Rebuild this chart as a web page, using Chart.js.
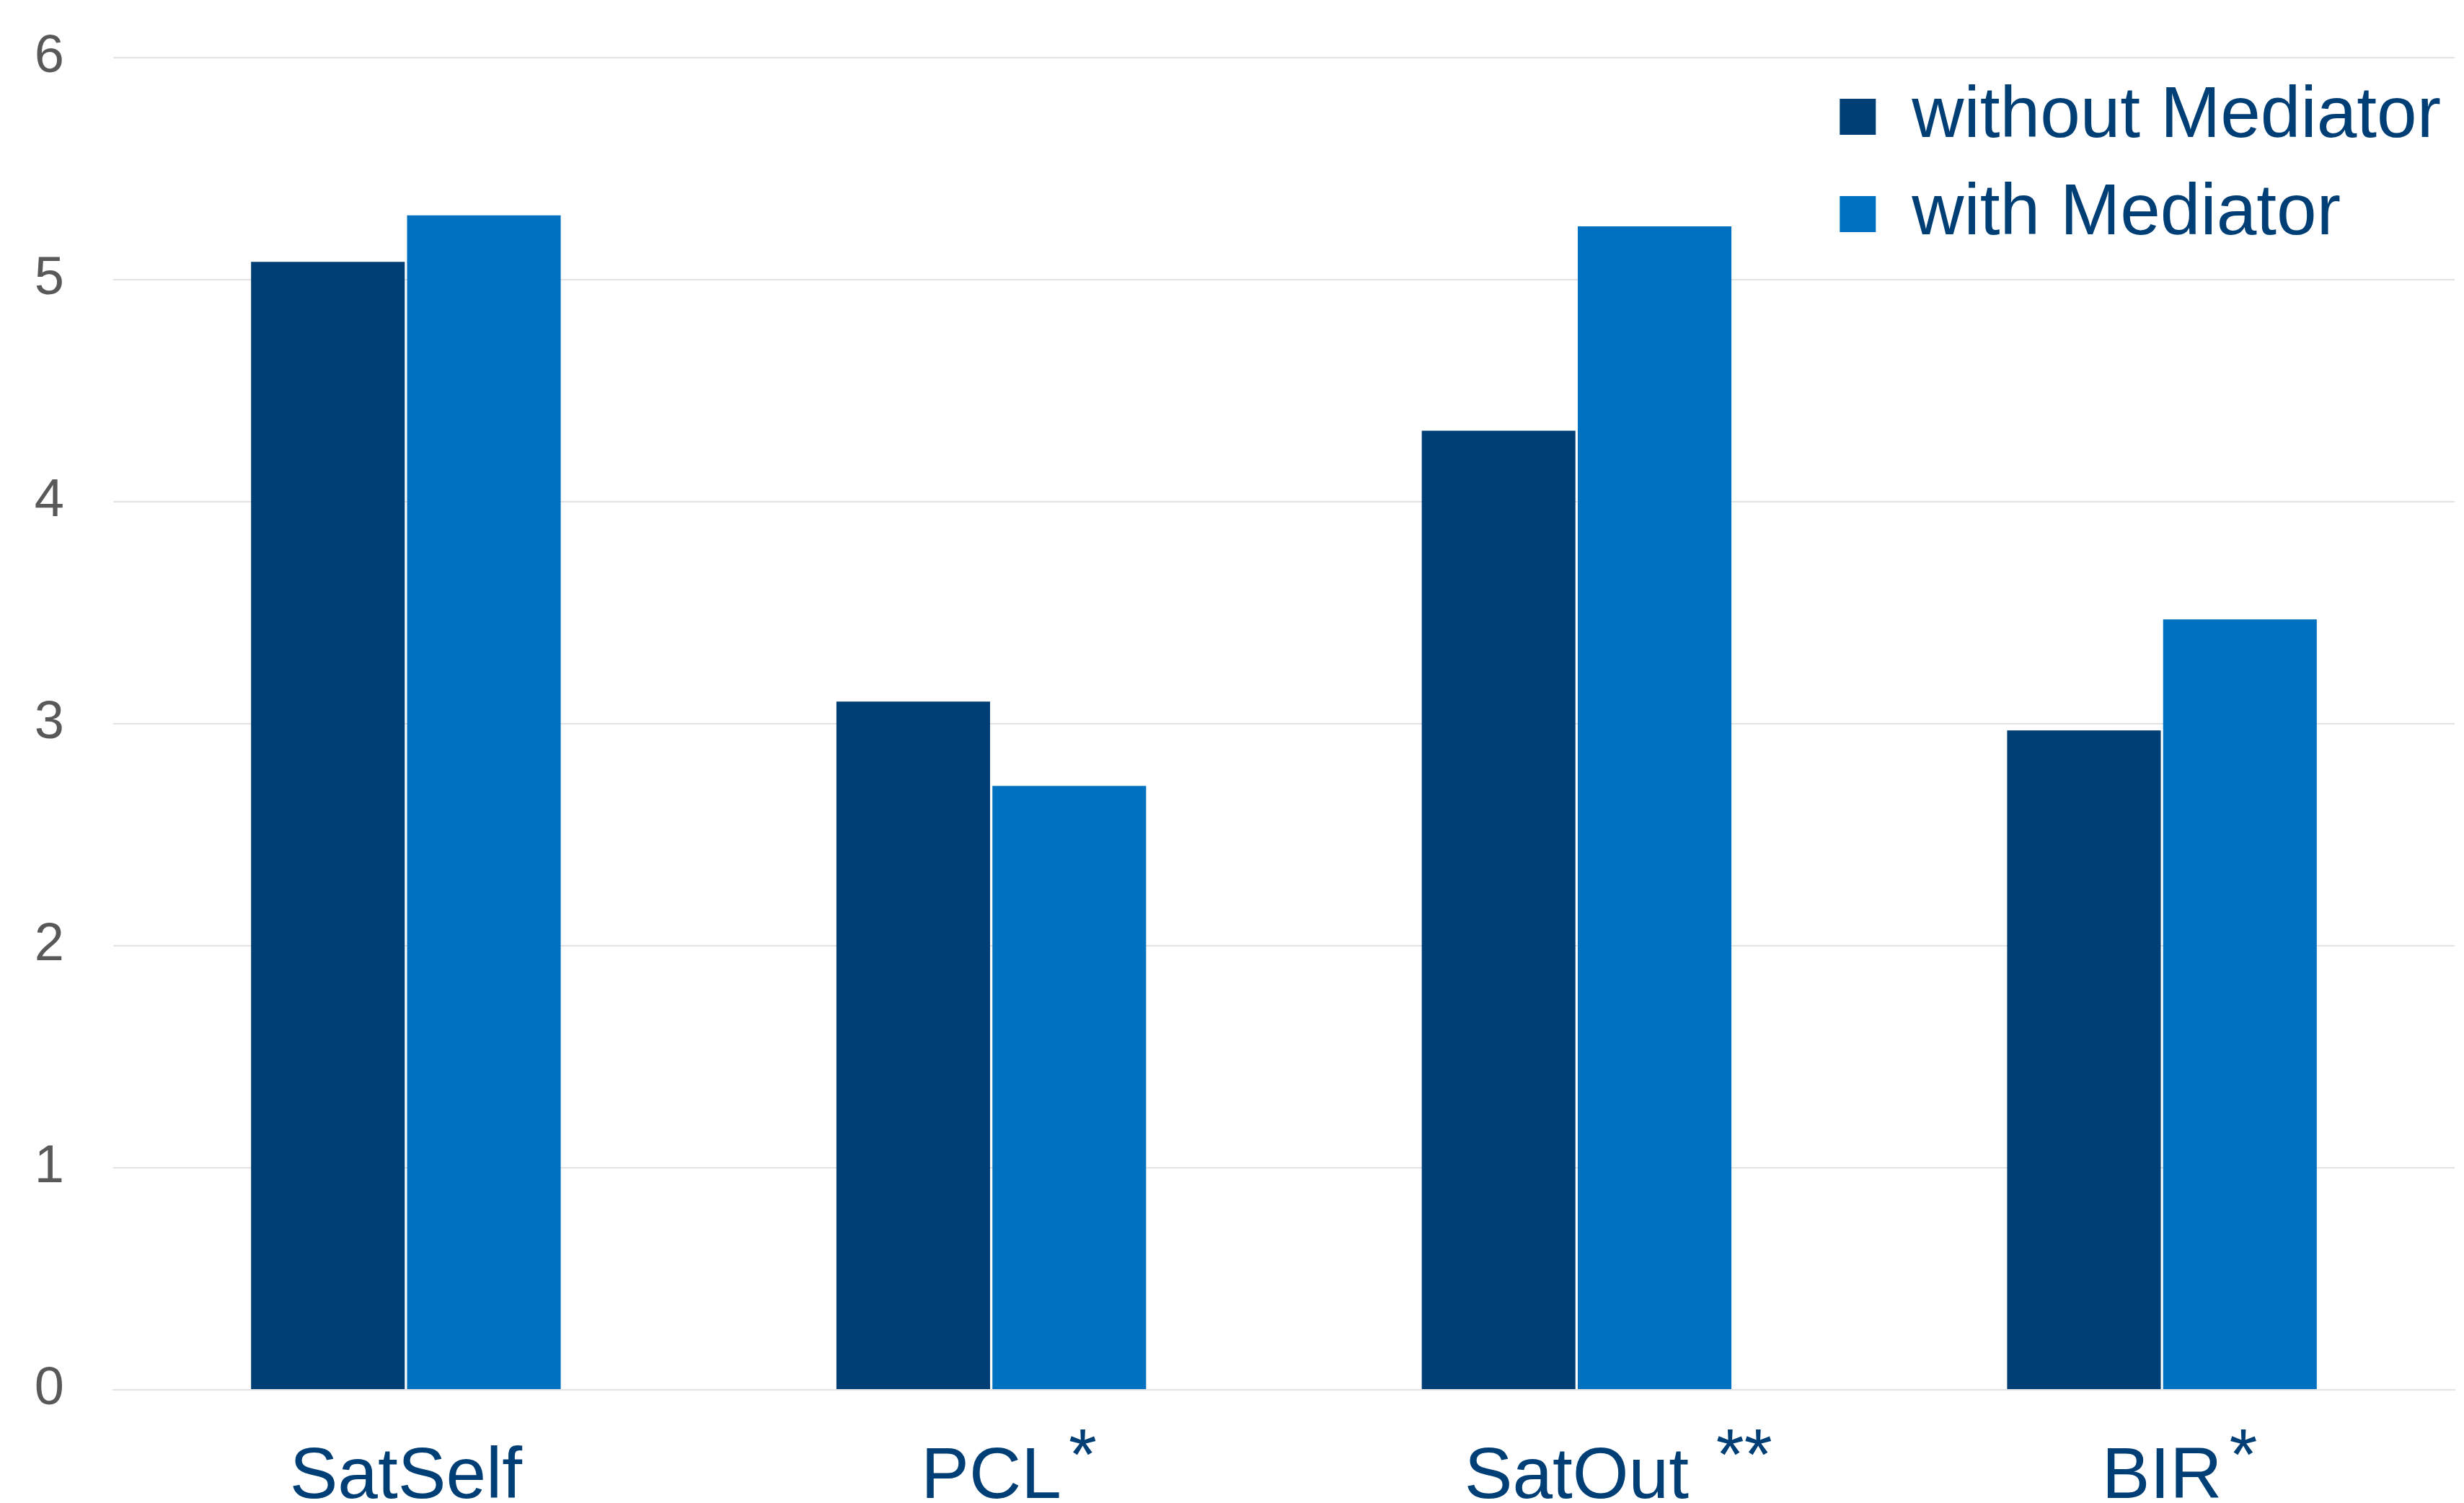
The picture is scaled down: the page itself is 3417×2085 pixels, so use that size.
<!DOCTYPE html>
<html>
<head>
<meta charset="utf-8">
<script src="https://cdn.jsdelivr.net/npm/chart.js@4"></script>
<style>
  html, body { margin: 0; padding: 0; background: #ffffff; }
  #wrap { width: 3417px; height: 2085px; }
</style>
</head>
<body>
<div id="wrap"><canvas id="mediator_chart"></canvas></div>
<script>
const categories = ["SatSelf", "PCL", "SatOut", "BIR"];
const significance = ["", "*", " **", "*"];
const withoutMediator = [5.08, 3.10, 4.32, 2.97];
const withMediator = [5.29, 2.72, 5.24, 3.47];
const yTicks = [0, 1, 2, 3, 4, 5, 6];

const darkBlue = "#003f75";
const lightBlue = "#0070c0";
const labelFont = "'Liberation Sans', Arial, sans-serif";

// legend sits inside the plot, top right corner
const legendInside = {
  id: "legendInside",
  beforeDraw(chart) {
    const lg = chart.legend;
    const area = chart.chartArea;
    const w = lg.width;
    const h = lg.height;
    lg.left = area.right - w - 9;
    lg.right = lg.left + w;
    lg.top = area.top - 3;
    lg.bottom = lg.top + h;
  }
};

// raised significance stars after the category names
const sigStars = {
  id: "sigStars",
  afterDraw(chart) {
    const ctx = chart.ctx;
    const xs = chart.scales.x;
    const t = xs.options.ticks;
    const y = xs.top + t.padding + t.font.size * t.font.lineHeight / 2 - 18;
    ctx.save();
    ctx.font = t.font.size + "px " + labelFont;
    ctx.fillStyle = darkBlue;
    ctx.textAlign = "left";
    ctx.textBaseline = "middle";
    categories.forEach((c, i) => {
      if (!significance[i]) return;
      const cx = xs.getPixelForTick(i);
      const w = ctx.measureText(c).width;
      ctx.fillText(significance[i], cx + w / 2 + 10, y);
    });
    ctx.restore();
  }
};

mediator_chart = new Chart("mediator_chart", {
  type: "bar",
  data: {
    labels: categories,
    datasets: [{
      label: "without Mediator",
      backgroundColor: darkBlue,
      data: withoutMediator
    }, {
      label: "with Mediator",
      backgroundColor: lightBlue,
      data: withMediator
    }]
  },
  options: {
    responsive: true,
    maintainAspectRatio: false,
    animation: false,
    categoryPercentage: 0.533,
    barPercentage: 0.985,
    layout: {
      padding: { left: 48, right: 13, top: 80, bottom: 0 }
    },
    plugins: {
      tooltip: { enabled: false },
      legend: {
        position: "chartArea",
        align: "start",
        labels: {
          boxWidth: 50,
          boxHeight: 50,
          padding: 35,
          color: darkBlue,
          font: { family: labelFont, size: 100 }
        }
      }
    },
    scales: {
      x: {
        afterFit(axis) {
          axis.height = 157;
        },
        grid: { display: false },
        border: { display: true, color: "#e3e3e3", width: 2 },
        ticks: {
          color: darkBlue,
          padding: 71,
          font: { family: labelFont, size: 100, lineHeight: 0.86 }
        }
      },
      y: {
        min: 0,
        max: 6,
        afterBuildTicks(axis) {
          axis.ticks = yTicks.map(v => ({ value: v }));
        },
        afterFit(axis) {
          axis.width = 109;
          axis.paddingTop = 0;
          axis.paddingBottom = 0;
        },
        grid: { color: "#e3e3e3", lineWidth: 2, drawTicks: false },
        border: { display: false },
        ticks: {
          color: "#595959",
          padding: 68,
          font: { family: labelFont, size: 74 }
        }
      }
    }
  },
  plugins: [legendInside, sigStars]
});
</script>
</body>
</html>
